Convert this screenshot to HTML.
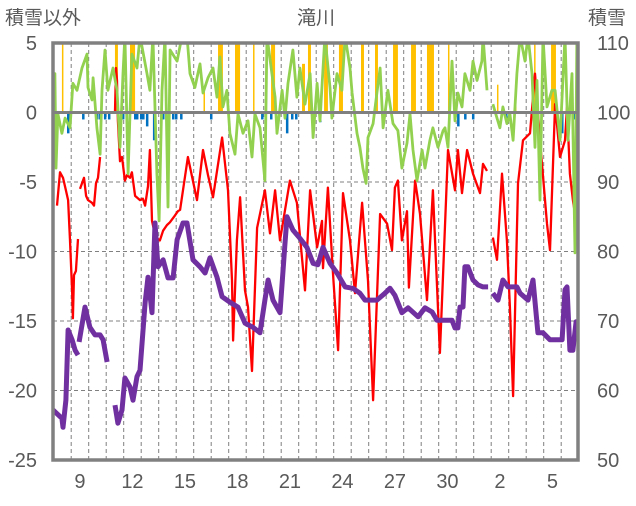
<!DOCTYPE html>
<html><head><meta charset="utf-8"><style>
body{margin:0;background:#fff;}
svg text{font-family:"Liberation Sans","Noto Sans CJK JP",sans-serif;fill:#595959;}
</style></head><body>
<svg id="chart" width="636" height="501" viewBox="0 0 636 501" xmlns="http://www.w3.org/2000/svg">
<defs><clipPath id="plotclip"><rect x="53" y="43" width="525" height="417"/></clipPath></defs>
<text x="5" y="24" font-size="19">積雪以外</text>
<text x="316" y="24" font-size="19" text-anchor="middle">滝川</text>
<text x="588" y="24" font-size="19">積雪</text>
<g id="grid"></g><g id="bars" clip-path="url(#plotclip)"></g><g id="series" clip-path="url(#plotclip)"></g><g id="frame"></g><g id="labels"></g>
</svg>
<script>
const leftTicks=[5,0,-5,-10,-15,-20,-25];
const rightTicks=[110,100,90,80,70,60,50];
const dayTickPos=[9,12,15,18,21,24,27,30,33,36];
const dayTickLabels=["9","12","15","18","21","24","27","30","2","5"];
const redT=[7.69,7.86,8.03,8.20,8.32,8.43,8.55,8.60,8.66,8.77,8.89,null,9.00,9.23,9.35,9.46,9.69,9.80,9.92,10.03,10.15,null,11.0,11.06,11.12,11.17,11.29,11.40,11.57,11.69,11.86,11.97,12.15,12.43,12.6,12.72,12.89,13.0,13.12,13.29,13.46,13.57,13.75,13.97,14.14,14.43,14.6,14.72,15.17,15.69,16.03,16.32,16.60,17.12,17.46,17.69,17.75,17.97,18.15,18.43,18.6,18.83,19.12,19.57,19.86,20.15,20.43,21.0,21.40,21.86,22.15,22.55,22.83,22.89,23.17,23.46,23.75,24.03,24.43,24.72,25.12,25.46,25.75,26.15,26.55,26.83,27.0,27.17,27.40,27.69,27.80,28.15,28.43,28.83,29.17,29.57,29.75,30.03,30.43,30.6,30.83,31.12,31.46,31.86,32.03,32.26,null,32.6,32.83,33.12,33.40,33.57,33.75,34.03,34.32,34.72,35.0,35.29,35.69,35.86,36.15,36.43,36.72,36.83,37.0,37.17,37.46];
const redV=[-6.7,-4.3,-4.7,-5.6,-6.3,-9.2,-12.8,-14.8,-11.7,-11.4,-9.1,null,-5.5,-4.7,-6.0,-6.3,-6.5,-6.7,-5.1,-4.7,-3.2,null,0.1,3.2,2.3,-0.6,-3.5,-3.2,-4.9,-4.5,-4.7,-4.3,-6.0,-6.3,-6.2,-6.7,-5.3,-2.7,-7.8,-8.8,-9.1,-9.2,-8.5,-8.1,-7.9,-7.4,-7.1,-7.0,-3.2,-6.3,-2.7,-4.5,-6.1,-1.8,-5.6,-12.1,-16.4,-9.2,-6.1,-12.8,-14.0,-18.6,-8.3,-5.6,-8.7,-5.6,-9.2,-4.9,-6.5,-12.8,-5.6,-9.7,-7.8,-11.2,-5.4,-11.6,-17.1,-5.8,-9.2,-13.0,-6.5,-12.1,-20.7,-7.3,-8.0,-9.9,-5.4,-4.9,-9.2,-7.1,-12.6,-4.9,-7.3,-13.5,-5.6,-17.3,-11.6,-2.7,-5.6,-2.7,-5.8,-2.7,-4.4,-5.8,-3.7,-4.2,null,-9.0,-10.6,-4.4,-9.2,-14.0,-20.4,-5.1,-2.0,-1.5,2.8,-2.0,-8.0,-9.9,0.6,-3.2,-2.0,0.4,-4.4,-6.3,-8.7];
const greenT=[7.46,7.57,7.63,7.74,7.97,8.15,8.43,8.6,8.83,9.12,9.40,9.46,9.69,9.75,9.97,10.15,10.26,10.43,10.6,10.89,11.12,11.29,11.46,11.57,11.75,11.97,12.26,12.43,12.83,13.0,13.17,13.40,13.52,13.69,13.86,14.03,14.15,14.55,14.83,15.12,15.29,15.57,15.86,16.03,16.32,16.60,16.83,17.0,17.17,17.40,17.57,17.86,18.03,18.32,18.6,18.83,19.0,19.29,19.57,19.69,19.97,20.15,20.26,20.55,20.72,20.89,21.17,21.40,21.57,21.86,22.15,22.32,22.55,22.72,23.0,23.29,23.40,23.69,23.97,24.15,24.43,24.55,24.83,25.0,25.17,25.35,25.46,25.75,25.97,26.15,26.32,26.6,26.89,27.17,27.40,27.69,27.86,28.03,28.26,28.55,28.72,29.0,29.17,29.46,29.75,29.86,30.03,30.26,30.43,30.6,30.83,31.0,31.29,31.46,31.69,31.97,32.03,32.26,null,32.6,32.83,33.0,33.17,33.40,33.57,33.75,33.97,34.15,34.43,34.6,34.83,35.0,35.12,35.29,35.46,35.69,35.97,36.15,36.43,36.72,36.89,37.12,37.29,37.40];
const greenV=[-3.5,2.8,-4.0,-0.1,-1.5,-0.4,-1.1,2.1,1.6,3.2,4.2,1.8,0.9,2.5,-1.1,-3.0,1.6,4.5,1.6,3.2,1.6,-2.5,2.8,5.5,-4.4,4.2,3.2,5.5,2.8,1.6,5.5,-4.4,-7.8,1.6,5.5,-6.8,4.5,3.7,5.5,5.5,2.8,1.8,3.5,1.4,2.5,3.2,1.1,4.0,0.4,1.6,-1.5,-3.0,-0.1,-1.5,-0.6,-3.2,-0.1,-1.1,-4.9,5.5,2.8,1.1,-1.5,1.6,-0.4,2.1,4.5,1.1,3.2,0.6,2.8,-1.8,2.1,-0.6,5.5,1.8,-0.4,2.8,1.6,5.5,3.2,1.4,-1.5,-2.5,-4.0,-5.1,-1.8,-0.8,1.4,3.2,-1.1,1.6,-0.8,-1.3,-4.0,-2.2,-0.1,-2.7,-4.9,-2.7,-4.0,-2.0,-1.1,-2.5,-1.3,-1.1,-2.5,3.7,-0.6,1.4,0.4,2.8,1.6,3.7,2.3,3.7,5.5,1.6,null,0.6,-0.4,-1.1,0.4,-0.8,-0.1,-2.0,2.8,5.5,3.7,5.5,2.8,-2.5,2.3,-6.3,5.5,0.4,1.6,1.6,-2.0,5.5,-2.0,2.8,-10.1,5.5];
const snowT=[7.46,7.97,8.03,8.20,8.32,8.55,8.72,8.89,null,8.95,9.29,9.57,9.86,10.15,10.32,10.55,null,11.0,11.17,11.40,11.57,11.86,12.03,12.26,12.43,12.72,12.89,13.12,13.29,13.46,13.75,14.03,14.32,14.55,14.89,15.12,15.46,15.86,16.15,16.43,16.83,17.12,17.57,18.03,18.43,18.89,19.29,19.57,19.75,20.03,20.43,20.72,20.83,21.17,21.57,21.97,22.32,22.6,22.89,23.29,23.69,24.15,24.6,25.0,25.29,25.97,26.43,26.72,27.0,27.40,27.75,28.32,28.72,29.12,29.40,29.86,30.26,30.43,30.6,30.72,30.89,31.0,31.17,31.46,31.75,32.03,32.32,null,32.6,32.89,33.17,33.46,33.97,34.15,34.6,34.89,35.17,35.46,35.86,36.55,36.72,36.83,37.0,37.17,37.35,37.46];
const snowV=[57.2,56.0,54.7,58.6,68.7,67.3,65.8,65.1,null,67.0,72.0,69.1,68.0,68.0,67.3,64.1,null,57.9,55.3,57.2,61.8,60.5,58.6,62.0,62.9,72.6,76.3,71.2,84.1,77.8,78.8,76.2,76.2,81.7,84.1,84.1,78.8,77.8,76.9,79.1,76.3,73.5,72.7,72.0,69.7,69.1,68.3,73.0,75.9,73.0,71.2,81.2,85.0,83.1,81.9,80.6,78.3,78.1,80.6,78.3,76.9,74.9,74.7,74.0,73.0,73.0,74.0,74.7,73.7,71.2,71.9,70.6,71.9,71.3,70.1,70.1,70.1,69.0,69.0,72.0,72.0,77.8,77.8,75.9,75.2,74.9,74.9,null,74.0,73.0,75.9,74.9,74.9,74.0,73.0,75.9,68.3,68.3,67.3,67.3,74.5,74.9,65.8,65.8,69.9,68.3];
const orangeStart=[7.97,11.0,11.86,16.06,16.89,17.86,18.89,19.92,21.69,22.03,22.95,23.8,25.06,25.86,26.89,27.92,28.83,30.03,32.83,33.86,34.95,35.92];
const orangeEnd=[8.03,11.17,12.15,16.12,17.17,18.15,18.95,20.15,21.86,22.2,23.17,24.03,25.23,26.03,27.17,28.2,29.23,30.09,32.89,33.92,35.0,36.2];
const orangeV=[5,5,5,1.5,5,5,5,5,3.5,5,5,5,5,5,5,5,5,5,2,1,5,5];
const blueT=[8.26,9.12,9.92,10.09,10.37,10.6,11.4,12.09,12.2,12.43,12.55,12.77,13.17,13.69,14.26,14.43,14.72,16.43,19.35,19.86,20.66,20.77,21.06,21.29,22.66,30.55,30.95,31.4,33.29,34.89,36.49,36.83,37.17];
const blueV=[-1.5,-0.5,-0.5,-0.5,-0.5,-0.5,-0.5,-0.5,-0.5,-0.5,-0.5,-1.0,-2.0,-0.5,-0.5,-0.5,-0.5,-0.5,-0.5,-0.5,-0.5,-1.5,-0.5,-0.5,-0.7,-1.0,-0.5,-0.5,-0.5,-0.5,-1.5,-0.5,-0.5];

const L=53,R=578,T=43,B=460,T0=7.46,PXD=17.5;
const xs=t=>L+(t-T0)*PXD;
const yL=v=>T+(5-v)*(B-T)/30;
const yR=v=>T+(110-v)*(B-T)/60;
const NS="http://www.w3.org/2000/svg";
function mk(tag,attrs,parent){const e=document.createElementNS(NS,tag);for(const k in attrs)e.setAttribute(k,attrs[k]);parent.appendChild(e);return e;}
const grid=document.getElementById('grid'),bars=document.getElementById('bars'),series=document.getElementById('series'),frame=document.getElementById('frame'),labels=document.getElementById('labels');
for(let d=7.5;d<37.4;d+=1){const g=mk('line',{x1:xs(d),x2:xs(d),y1:T,y2:B,stroke:'#808080','stroke-width':1,'stroke-dasharray':'4,3'},grid);

}
leftTicks.forEach((v,i)=>{if(v<5&&v>-25&&v!==0){const g=mk('line',{x1:L,x2:R,y1:yL(v),y2:yL(v),stroke:'#808080','stroke-width':1,'stroke-dasharray':'4,3'},grid);

}
const t=mk('text',{x:37,y:yL(v)+7,'font-size':20,'text-anchor':'end'},labels);t.textContent=String(v);

});
rightTicks.forEach(v=>{const t=mk('text',{x:597,y:yR(v)+7,'font-size':20},labels);t.textContent=String(v);

});
dayTickPos.forEach((d,i)=>{const t=mk('text',{x:xs(d),y:488,'font-size':20,'text-anchor':'middle'},labels);t.textContent=dayTickLabels[i];

});
orangeStart.forEach((s,i)=>{const w=Math.max(1.5,(orangeEnd[i]-s)*PXD);const r=mk('rect',{x:xs(s),y:yL(orangeV[i]),width:w,height:yL(0)-yL(orangeV[i]),fill:'#FFC000'},bars);

});
blueT.forEach((s,i)=>{const r=mk('rect',{x:xs(s),y:yL(0),width:2.5,height:yL(blueV[i])-yL(0),fill:'#0070C0'},bars);

});
function pathD(ts,vs,yf){let d='',pen=false;for(let i=0;i<ts.length;i++){if(ts[i]===null){pen=false;continue;}d+=(pen?'L':'M')+xs(ts[i]).toFixed(1)+','+yf(vs[i]).toFixed(1);pen=true;}return d;}
const red=mk('path',{d:pathD(redT,redV,yL),fill:'none',stroke:'#FF0000','stroke-width':2.3,'stroke-linejoin':'round'},series);


const green=mk('path',{d:pathD(greenT,greenV,yL),fill:'none',stroke:'#92D050','stroke-width':2.8,'stroke-linejoin':'round'},series);


const snow=mk('path',{d:pathD(snowT,snowV,yR),fill:'none',stroke:'#7030A0','stroke-width':5,'stroke-linejoin':'round'},series);


const z=mk('line',{x1:L,x2:R,y1:yL(0),y2:yL(0),stroke:'#808080','stroke-width':3},frame);


const fr=mk('rect',{x:L,y:T,width:R-L,height:B-T,fill:'none',stroke:'#808080','stroke-width':3.5},frame);


</script>
</body></html>
